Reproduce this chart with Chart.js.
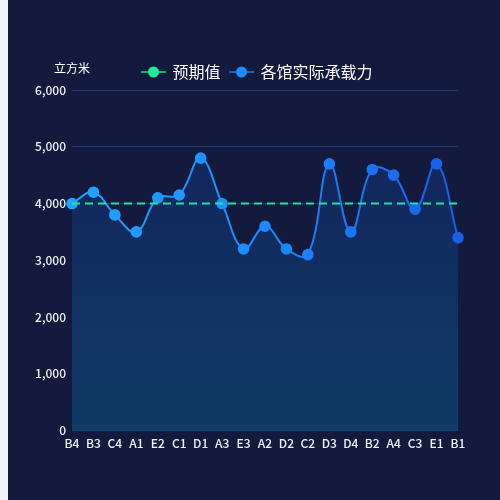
<!DOCTYPE html>
<html><head><meta charset="utf-8">
<script src="https://cdn.jsdelivr.net/npm/chart.js@4/dist/chart.umd.min.js"></script>
<style>
html,body{margin:0;padding:0;background:#f2f4fa;}
#wrap{position:absolute;left:8px;top:0;width:492px;height:500px;background:#131a3d;}
</style></head>
<body><div id="wrap"><canvas id="c"></canvas></div>
<script>
const categories = ['B4','B3','C4','A1','E2','C1','D1','A3','E3','A2','D2','C2','D3','D4','B2','A4','C3','E1','B1'];
const actualValues = [4000,4200,3800,3500,4100,4150,4800,4000,3200,3600,3200,3100,4700,3500,4600,4500,3900,4700,3400];
const expectedValues = [4000,4000,4000,4000,4000,4000,4000,4000,4000,4000,4000,4000,4000,4000,4000,4000,4000,4000,4000];
const seriesNames = ['预期值','各馆实际承载力'];
const yUnit = '立方米';
const FONT = "'Noto Sans CJK SC', 'Noto Sans', sans-serif";

function swatch(lineColor, dotColor){
  const c = document.createElement('canvas');
  c.width = 25; c.height = 12;
  const x = c.getContext('2d');
  x.strokeStyle = lineColor; x.lineWidth = 2;
  x.beginPath(); x.moveTo(0,6); x.lineTo(25,6); x.stroke();
  x.fillStyle = dotColor; x.beginPath(); x.arc(12.5,6,5.5,0,Math.PI*2); x.fill();
  return c;
}
const swatches = [swatch('#1aa874','#1de9a0'), swatch('#1f5fc4','#1a8cff')];

function hGrad(ctx){
  const ca = ctx.chart.chartArea; if(!ca) return '#1a8cff';
  const g = ctx.chart.ctx.createLinearGradient(ca.left,0,ca.right,0);
  g.addColorStop(0,'#1fa6ff'); g.addColorStop(0.5,'#1a8cff'); g.addColorStop(1,'#1a5ee6');
  return g;
}
function vGrad(ctx){
  const ca = ctx.chart.chartArea; if(!ca) return '#12285c';
  const g = ctx.chart.ctx.createLinearGradient(0,ca.top,0,ca.bottom);
  g.addColorStop(0,'#14215a'); g.addColorStop(1,'#0f3b67');
  return g;
}

const unitPlugin = {
  id:'unit',
  afterDraw(chart){
    const {ctx, chartArea} = chart;
    ctx.save();
    ctx.font = "12px " + FONT;
    ctx.fillStyle = '#ffffff';
    ctx.textAlign = 'left'; ctx.textBaseline = 'middle';
    ctx.fillText(yUnit, chartArea.left - 18, chartArea.top - 22);
    ctx.restore();
  }
};

new Chart(document.getElementById('c'), {
  type:'line',
  data:{
    labels: categories,
    datasets:[
      {label: seriesNames[0], data: expectedValues, borderColor:'#1fe59c', borderWidth:2, borderDash:[8,5], pointRadius:0, fill:false, tension:0, order:0},
      {label: seriesNames[1], data: actualValues, borderColor: hGrad, pointBackgroundColor: hGrad, pointBorderColor: hGrad, borderWidth:2, pointRadius:4.8, pointHoverRadius:4.8, fill:true, backgroundColor: vGrad, tension:0.4, order:1}
    ]
  },
  options:{
    responsive:true, maintainAspectRatio:false, animation:false,
    layout:{padding:{left:7,right:0,top:54,bottom:43}},
    plugins:{
      tooltip:{enabled:false},
      legend:{
        display:true, position:'top',
        labels:{
          usePointStyle:true, pointStyleWidth:22, boxWidth:22, padding:10,
          color:'#ffffff', font:{size:16, family:FONT},
          generateLabels(chart){
            return chart.data.datasets.map((ds,i)=>({text:ds.label, pointStyle:swatches[i], fontColor:'#ffffff', hidden:false, datasetIndex:i, lineWidth:0, strokeStyle:'transparent', fillStyle:'transparent'}));
          }
        }
      }
    },
    scales:{
      x:{
        offset:false,
        grid:{display:false, drawTicks:false, tickLength:0},
        border:{display:false},
        ticks:{color:'#f2f4f8', font:{size:12, family:FONT, weight:'500'}, autoSkip:false, maxRotation:0, padding:6}
      },
      y:{
        min:0, max:6000,
        ticks:{stepSize:1000, color:'#f2f4f8', font:{size:12, family:FONT, weight:'500'}, padding:6},
        grid:{color:'#173f7c', drawTicks:false},
        border:{display:false},
        afterFit(s){ s.width = 57; }
      },
      y2:{
        position:'right', display:true,
        grid:{display:false}, border:{display:false},
        ticks:{display:false},
        afterFit(s){ s.width = 42; }
      }
    }
  },
  plugins:[unitPlugin]
});
</script></body></html>
